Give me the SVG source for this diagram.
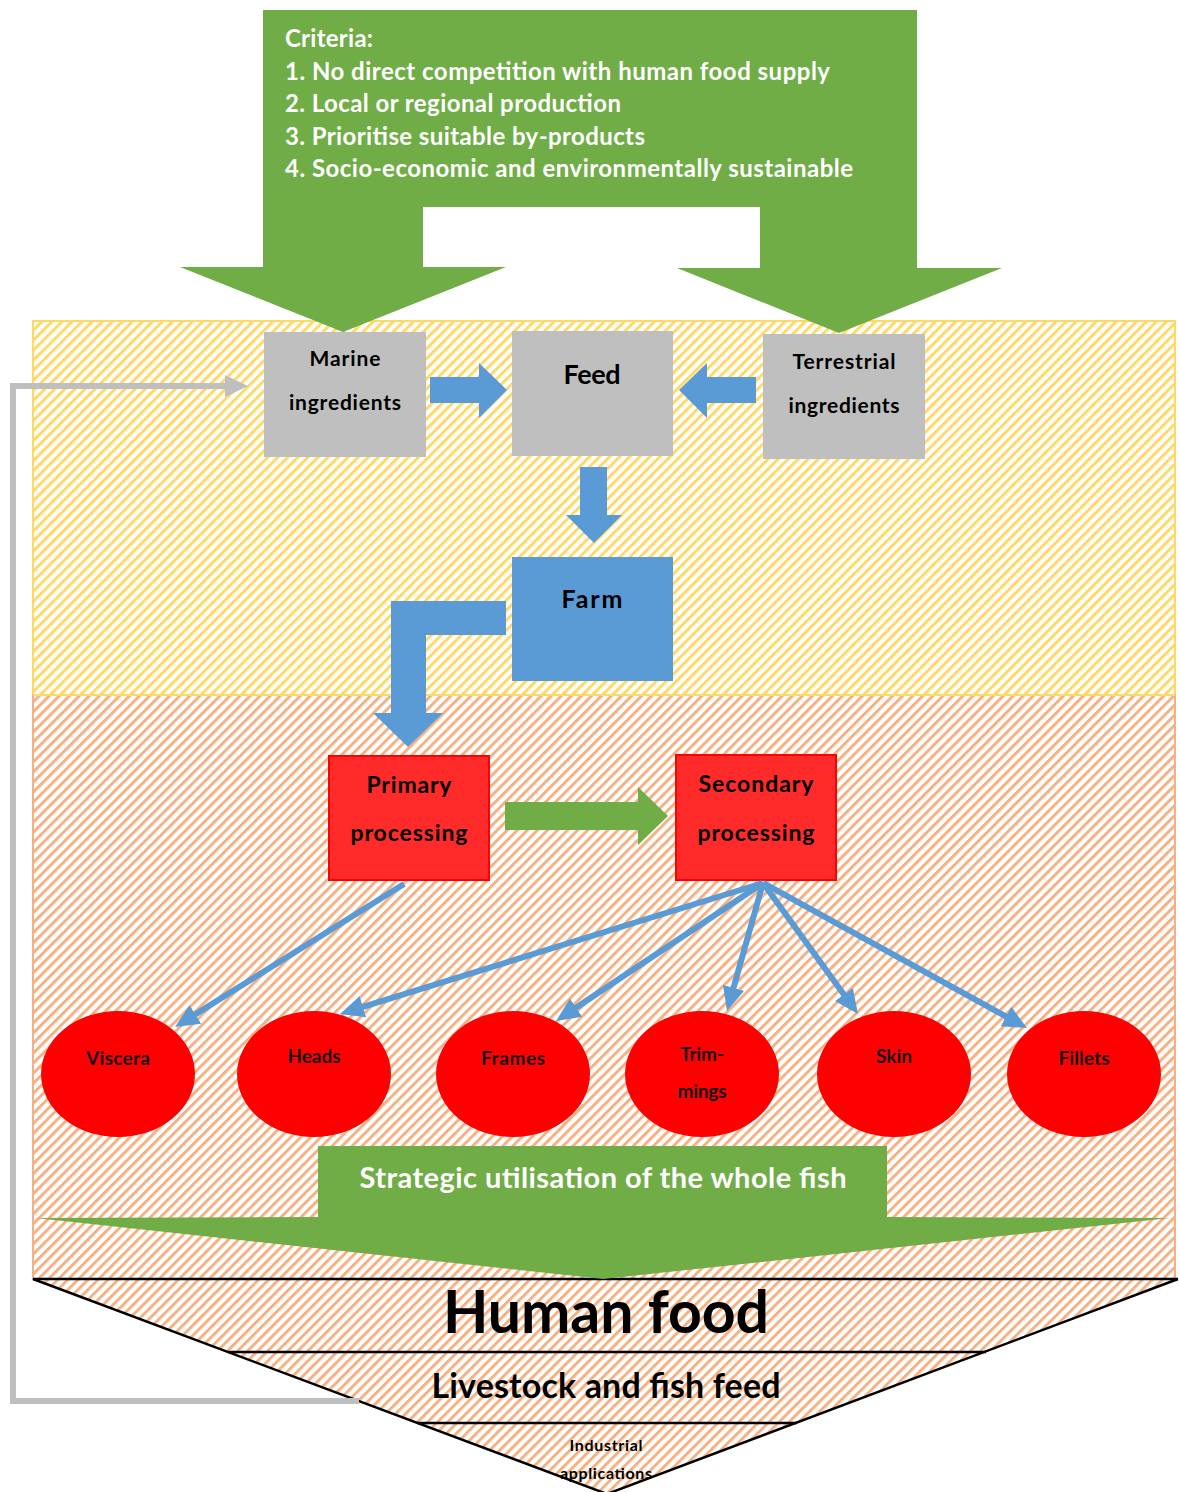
<svg xmlns="http://www.w3.org/2000/svg" width="1179" height="1492" viewBox="0 0 1179 1492">
  <defs>
    <!-- diagonal hatch fills for the two zones -->
    <pattern id="hatchYellow" width="7.1" height="7.1" patternUnits="userSpaceOnUse" patternTransform="rotate(45)">
      <rect width="3" height="7.1" fill="#FFD966"/>
    </pattern>
    <pattern id="hatchOrange" width="7.1" height="7.1" patternUnits="userSpaceOnUse" patternTransform="rotate(45)">
      <rect width="3" height="7.1" fill="#F4B183"/>
    </pattern>
    <marker id="blueHead" markerUnits="userSpaceOnUse" markerWidth="26" markerHeight="24" refX="16" refY="12" orient="auto">
      <path d="M0,1 L24,12 L0,23 Z" fill="#5B9BD5"/>
    </marker>
    <marker id="grayHead" markerUnits="userSpaceOnUse" markerWidth="26" markerHeight="24" refX="14" refY="12" orient="auto">
      <path d="M0,1 L23,12 L0,23 Z" fill="#BFBFBF"/>
    </marker>
  </defs>
  <style>
    text { font-family: Lato, "Open Sans", "Liberation Sans", sans-serif; font-weight: bold; }
    .white { fill: #FFFFFF; }
    .dark { fill: #000000; text-anchor: middle; }
    .oval { fill: #141414; text-anchor: middle; font-size: 19px; }
    .grayBox { fill: #BFBFBF; }
    .redBox { fill: #FF2B2B; stroke: #FF0000; stroke-width: 2; }
    .ellipse { fill: #FF0000; }
    .blue { fill: #5B9BD5; }
    .green { fill: #70AD47; }
    .blueLine { stroke: #5B9BD5; stroke-width: 6; fill: none; marker-end: url(#blueHead); }
    .tier { stroke: #000000; stroke-width: 2.5; fill: none; }
  </style>

  <!-- background zones -->
  <rect x="33" y="321" width="1142" height="374" fill="url(#hatchYellow)" stroke="#FFD966" stroke-width="2"/>
  <rect x="33" y="695" width="1142" height="584" fill="url(#hatchOrange)" stroke="#F4B183" stroke-width="2"/>
  <line x1="33" y1="695" x2="1175" y2="695" stroke="#FFD966" stroke-width="2"/>

  <!-- output pyramid -->
  <g id="pyramid">
    <polygon points="33,1279 1178,1279 607,1494" fill="url(#hatchOrange)"/>
    <polyline class="tier" points="33,1279 1178,1279"/>
    <polyline class="tier" points="33,1279 607,1494 1178,1279"/>
    <line class="tier" x1="228" y1="1352" x2="986" y2="1352"/>
    <line class="tier" x1="417" y1="1423" x2="797" y2="1423"/>
    <text class="dark" x="606" y="1333" font-size="59" textLength="326">Human food</text>
    <text class="dark" x="606" y="1398" font-size="34" textLength="349">Livestock and fish feed</text>
    <text class="dark" x="606" y="1451" font-size="16" textLength="73">Industrial</text>
    <text class="dark" x="606" y="1479" font-size="16" textLength="92">applications</text>
  </g>

  <!-- criteria banner with its two downward arrows -->
  <g id="criteria">
    <polygon class="green" points="263,10 917,10 917,268 1002,268 839,333 677,268 760,268 760,207 423,207 423,267 506,267 343,332 180,267 263,267"/>
    <text class="white" x="285" y="47" font-size="24" textLength="88">Criteria:</text>
    <text class="white" x="285" y="80" font-size="24" textLength="545">1. No direct competition with human food supply</text>
    <text class="white" x="285" y="112" font-size="24" textLength="336">2. Local or regional production</text>
    <text class="white" x="285" y="145" font-size="24" textLength="360">3. Prioritise suitable by-products</text>
    <text class="white" x="285" y="177" font-size="24" textLength="568">4. Socio-economic and environmentally sustainable</text>
  </g>

  <g id="marine">
    <rect class="grayBox" x="264" y="332" width="162" height="125"/>
    <text class="dark" x="345" y="366" font-size="21" textLength="71">Marine</text>
    <text class="dark" x="345" y="410" font-size="21" textLength="112">ingredients</text>
  </g>
  <g id="feed">
    <rect class="grayBox" x="512" y="331" width="161" height="125"/>
    <text class="dark" x="592" y="384" font-size="27" textLength="57">Feed</text>
  </g>
  <g id="terrestrial">
    <rect class="grayBox" x="763" y="334" width="162" height="125"/>
    <text class="dark" x="844" y="369" font-size="21" textLength="103">Terrestrial</text>
    <text class="dark" x="844" y="413" font-size="21" textLength="111">ingredients</text>
  </g>
  <g id="farm">
    <rect class="blue" x="512" y="557" width="161" height="124"/>
    <text class="dark" x="592" y="608" font-size="25" textLength="61">Farm</text>
  </g>
  <g id="primary">
    <rect class="redBox" x="329" y="756" width="160" height="124"/>
    <text class="dark" x="409" y="793" font-size="23" textLength="85">Primary</text>
    <text class="dark" x="409" y="841" font-size="23" textLength="117">processing</text>
  </g>
  <g id="secondary">
    <rect class="redBox" x="676" y="755" width="160" height="125"/>
    <text class="dark" x="756" y="792" font-size="23" textLength="115">Secondary</text>
    <text class="dark" x="756" y="841" font-size="23" textLength="117">processing</text>
  </g>

  <!-- by-product ovals -->
  <g id="viscera">
    <ellipse class="ellipse" cx="118" cy="1074" rx="77" ry="63"/>
    <text class="oval" x="118" y="1065" textLength="64">Viscera</text>
  </g>
  <g id="heads">
    <ellipse class="ellipse" cx="314" cy="1074" rx="77" ry="63"/>
    <text class="oval" x="314" y="1063" textLength="53">Heads</text>
  </g>
  <g id="frames">
    <ellipse class="ellipse" cx="513" cy="1074" rx="77" ry="63"/>
    <text class="oval" x="513" y="1065" textLength="64">Frames</text>
  </g>
  <g id="trimmings">
    <ellipse class="ellipse" cx="702" cy="1074" rx="77" ry="63"/>
    <text class="oval" x="702" y="1061" textLength="44">Trim-</text>
    <text class="oval" x="702" y="1098" textLength="49">mings</text>
  </g>
  <g id="skin">
    <ellipse class="ellipse" cx="894" cy="1074" rx="77" ry="63"/>
    <text class="oval" x="894" y="1063" textLength="36">Skin</text>
  </g>
  <g id="fillets">
    <ellipse class="ellipse" cx="1084" cy="1074" rx="77" ry="63"/>
    <text class="oval" x="1084" y="1065" textLength="51">Fillets</text>
  </g>

  <!-- whole-fish arrow into the pyramid -->
  <g id="strategic">
    <polygon class="green" points="318,1146 887,1146 887,1217 1170,1218 603,1279 36,1218 318,1217"/>
    <text class="white" x="603" y="1188" font-size="29" text-anchor="middle" textLength="487">Strategic utilisation of the whole fish</text>
  </g>

  <g id="connectors">
    <!-- block arrows between the feed-chain boxes -->
    <polygon class="blue" points="430,377 479,377 479,363 507,390 479,418 479,403 430,403"/>
    <polygon class="blue" points="756,377 707,377 707,363 679,390 707,418 707,403 756,403"/>
    <polygon class="blue" points="580,467 607,467 607,515 622,515 594,543 566,515 580,515"/>
    <polygon class="blue" points="506,601 391,601 391,713 373,713 408,747 443,713 426,713 426,635 506,635"/>
    <polygon class="green" points="505,802 638,802 638,787 668,816 638,845 638,830 505,830"/>
    <!-- processing to by-products -->
    <line class="blueLine" x1="404" y1="884" x2="181.8" y2="1022.8"/>
    <line class="blueLine" x1="763" y1="883" x2="347.6" y2="1011.6"/>
    <line class="blueLine" x1="763" y1="883" x2="562.7" y2="1016.6"/>
    <line class="blueLine" x1="763" y1="883" x2="729.2" y2="1003.3"/>
    <line class="blueLine" x1="763" y1="883" x2="853.3" y2="1007.5"/>
    <line class="blueLine" x1="763" y1="883" x2="1020" y2="1024.2"/>
    <!-- feed loop back to marine ingredients -->
    <polyline points="359,1401 13,1401 13,386 239,386" fill="none" stroke="#BFBFBF" stroke-width="6" marker-end="url(#grayHead)"/>
  </g>
</svg>
